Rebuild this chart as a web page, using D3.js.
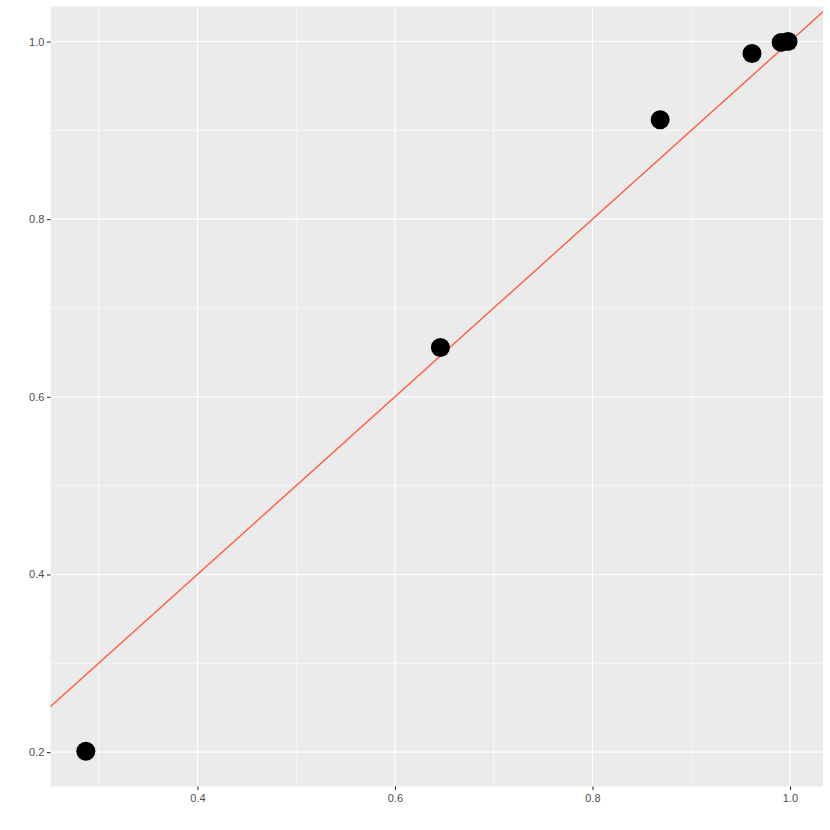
<!DOCTYPE html>
<html><head><meta charset="utf-8">
<script src="https://cdn.jsdelivr.net/npm/d3@7"></script>
<style>body{margin:0;background:#fff;} svg{display:block;}</style>
</head><body>
<script>
const xValues = [0.287, 0.646, 0.8685, 0.9615, 0.991, 0.998];
const yValues = [0.201, 0.6555, 0.912, 0.9865, 0.999, 1.0];
const xTicks = [0.4, 0.6, 0.8, 1.0];
const yTicks = [0.2, 0.4, 0.6, 0.8, 1.0];
const xMinor = [0.3, 0.5, 0.7, 0.9];
const yMinor = [0.3, 0.5, 0.7, 0.9];
const refLine = [[0, 0], [1.2, 1.2]];

const W = 830, H = 830;
const L = 50.5, R = 823, T = 6.5, B = 786.5;
const svg = d3.select("body").append("svg").attr("width", W).attr("height", H);
const x = d3.scaleLinear().domain([0.2512, 1.0334]).range([L, R]);
const y = d3.scaleLinear().domain([0.1613, 1.0394]).range([B, T]);

svg.append("rect").attr("x", L).attr("y", T).attr("width", R - L).attr("height", B - T).attr("fill", "#EBEBEB");
const g = svg.append("g");
g.selectAll(".xmin").data(xMinor).join("line").attr("x1", d => x(d)).attr("x2", d => x(d)).attr("y1", T).attr("y2", B).attr("stroke", "#fff").attr("stroke-width", 0.55);
g.selectAll(".ymin").data(yMinor).join("line").attr("y1", d => y(d)).attr("y2", d => y(d)).attr("x1", L).attr("x2", R).attr("stroke", "#fff").attr("stroke-width", 0.55);
g.selectAll(".xmaj").data(xTicks).join("line").attr("x1", d => x(d)).attr("x2", d => x(d)).attr("y1", T).attr("y2", B).attr("stroke", "#fff").attr("stroke-width", 1.1);
g.selectAll(".ymaj").data(yTicks).join("line").attr("y1", d => y(d)).attr("y2", d => y(d)).attr("x1", L).attr("x2", R).attr("stroke", "#fff").attr("stroke-width", 1.1);

const defs = svg.append("defs");
defs.append("clipPath").attr("id", "clip").append("rect").attr("x", L).attr("y", T).attr("width", R - L).attr("height", B - T);

svg.append("g").attr("clip-path", "url(#clip)").append("path")
  .datum(refLine)
  .attr("d", d3.line().x(d => x(d[0])).y(d => y(d[1])))
  .attr("stroke", "#FF6347").attr("stroke-width", 1.5).attr("fill", "none");

svg.append("g").selectAll("circle").data(xValues.map((v, i) => [v, yValues[i]])).join("circle")
  .attr("cx", d => x(d[0])).attr("cy", d => y(d[1])).attr("r", 9.5).attr("fill", "#000");

const xAxis = svg.append("g").attr("transform", `translate(0,${B})`)
  .call(d3.axisBottom(x).tickValues(xTicks).tickFormat(d3.format(".1f")).tickSize(3.6).tickPadding(4));
const yAxis = svg.append("g").attr("transform", `translate(${L},0)`)
  .call(d3.axisLeft(y).tickValues(yTicks).tickFormat(d3.format(".1f")).tickSize(3.6).tickPadding(2.5));
[xAxis, yAxis].forEach(a => {
  a.select(".domain").remove();
  a.selectAll(".tick line").attr("stroke", "#333").attr("stroke-width", 1.1);
  a.selectAll(".tick text").attr("fill", "#4D4D4D").attr("font-size", "11px").attr("font-family", "Liberation Sans, Arial, sans-serif");
});
</script>
</body></html>
